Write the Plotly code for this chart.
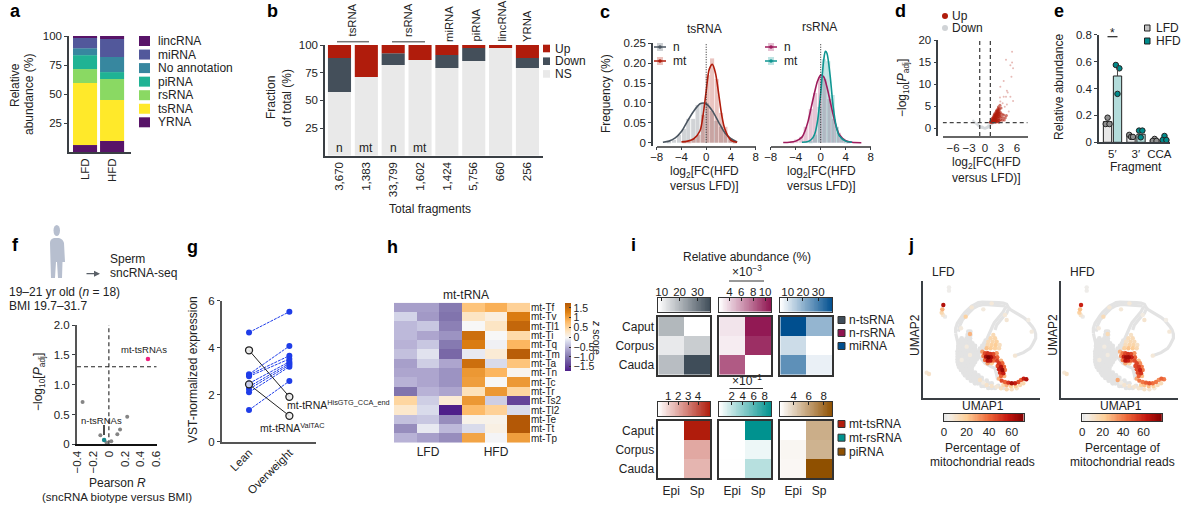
import plotly.graph_objects as go

W, H = 1185, 510
FONT = "Liberation Sans"
INK = "#222222"
AX = "#3a3f44"
UP, DOWN, NS = "#b01c0c", "#444f5a", "#e9e9e9"
TXT = 12

# --- a ---
a_groups = ["LFD", "HFD"]
a_names = ["YRNA", "tsRNA", "rsRNA", "piRNA", "No annotation", "miRNA", "lincRNA"]
a_colors = ["#581468", "#ffe92a", "#8ad963", "#20b394", "#37879f", "#52589b", "#581468"]
a_lfd = [6.0, 53.5, 12.0, 12.0, 6.0, 9.5, 1.0]
a_hfd = [9.5, 35.3, 18.1, 6.0, 13.0, 15.5, 2.6]
# --- b ---
b_counts = ["3,670", "1,383", "33,799", "1,602", "1,424", "5,756", "660", "256"]
b_ns = [57.5, 71.0, 81.9, 86.4, 79.2, 85.5, 97.3, 79.2]
b_down = [30.7, 0.0, 10.6, 0.0, 11.8, 11.8, 0.0, 9.0]
b_up = [11.8, 29.0, 7.5, 13.6, 9.0, 2.7, 2.7, 11.8]
# --- c ---
c_ts_n_bx = [-6, -5.2, -4.4, -3.6, -2.9, -2.1, -1.4, -0.6, 0.1, 0.9, 1.6, 2.4, 3.1, 3.9, 4.6]
c_ts_n_by = [.002, .007, .02, .035, .06, .06, .095, .1, .1, .08, .055, .04, .025, .01, .002]
c_ts_mt_bx = [-3.5, -2.75, -2, -1.25, -0.5, 0.25, 0.95, 1.7, 2.4, 3.1, 3.9, 4.6]
c_ts_mt_by = [.005, .005, .01, .02, .07, .17, .212, .16, .075, .04, .012, .004]
c_ts_n_x = [-7, -6, -5, -4, -3, -2, -1, -0.5, 0, 1, 2, 3, 4, 5]
c_ts_n_y = [.001, .004, .012, .028, .055, .08, .098, .1, .098, .08, .052, .025, .01, .002]
c_ts_mt_x = [-4, -3, -2, -1, -0.5, 0, 0.5, 1, 1.5, 2, 2.5, 3, 4, 5]
c_ts_mt_y = [.002, .004, .01, .03, .07, .13, .185, .197, .175, .125, .07, .035, .006, .001]
c_rs_n_bx = [-4.6, -3.9, -3.1, -2.4, -1.6, -0.9, -0.1, 0.6, 1.4, 2.1, 2.9, 3.6, 4.4]
c_rs_n_by = [.003, .008, .015, .04, .085, .125, .165, .16, .11, .06, .025, .01, .004]
c_rs_mt_bx = [-1.6, -0.9, -0.2, 0.5, 1.2, 1.9, 2.6, 3.3, 4]
c_rs_mt_by = [.004, .02, .09, .21, .205, .12, .04, .012, .004]
c_rs_n_x = [-6, -5, -4, -3, -2.5, -2, -1.5, -1, -0.5, 0, 0.5, 1, 1.5, 2, 2.5, 3, 4, 5, 6.5]
c_rs_n_y = [.0005, .001, .004, .014, .03, .055, .09, .125, .155, .17, .165, .14, .105, .07, .04, .02, .005, .001, 0]
c_rs_mt_x = [-3, -2, -1.5, -1, -0.5, 0, 0.5, 0.75, 1, 1.5, 2, 2.5, 3, 4, 5]
c_rs_mt_y = [.001, .003, .008, .02, .055, .125, .21, .23, .225, .17, .09, .04, .017, .004, .001]
# --- d ---
d_top_x = [5.07, 3.93, 5.07, 4.75, 5.25, 4.95, 3.5, 2.87, 4.1, 4.25, 2.8, 3.5, 3.93, 4.75, 5.25, 2.87, 3.3, 4.1, 3.7, 4.45]
d_top_y = [17.35, 15.5, 14.9, 14.3, 13.6, 11.7, 10.7, 9.4, 8.5, 8.1, 7.0, 7.15, 7.15, 7.15, 6.2, 6.05, 5.65, 5.4, 4.9, 3.8]
d_up_x = [1.0, 1.1, 1.2, 1.2, 1.3, 1.3, 1.4, 1.4, 1.5, 1.5, 1.5, 1.6, 1.6, 1.6, 1.7, 1.7, 1.7, 1.7, 1.8, 1.8, 1.8, 1.8,
          1.9, 1.9, 1.9, 1.9, 2.0, 2.0, 2.0, 2.0, 2.0, 2.1, 2.1, 2.1, 2.1, 2.1, 2.2, 2.2, 2.2, 2.2, 2.2, 2.3, 2.3, 2.3, 2.3,
          2.4, 2.4, 2.4, 2.4, 2.4, 2.5, 2.5, 2.5, 2.5, 2.5, 2.6, 2.6, 2.6, 2.6, 2.7, 2.7, 2.7, 2.7, 2.8, 2.8, 2.9, 2.9,
          3.0, 3.0, 3.2, 3.2, 3.3, 3.5, 3.6, 3.8, 4.0, 1.1, 1.5, 2.0, 2.6]
d_up_y = [1.4, 1.6, 1.5, 1.9, 1.4, 2.2, 1.7, 2.0, 1.5, 2.4, 1.9, 1.6, 2.2, 2.7, 1.5, 2.0, 2.5, 3.0, 1.8, 2.3, 2.8, 3.3,
          1.6, 2.1, 2.6, 3.1, 1.5, 2.0, 2.4, 2.9, 3.5, 1.8, 2.2, 2.7, 3.2, 3.8, 1.6, 2.5, 3.0, 3.5, 4.1, 1.9, 2.8, 3.3, 3.9,
          1.5, 2.3, 3.1, 3.6, 4.4, 1.8, 2.7, 3.4, 4.0, 4.8, 2.2, 3.0, 3.8, 4.5, 1.7, 2.6, 3.4, 4.2, 5.2, 3.0, 2.0, 3.6,
          2.6, 4.6, 1.8, 3.2, 2.4, 3.0, 1.9, 2.4, 2.9, 1.35, 1.35, 1.35, 1.4]
d_gray_x = [-2.2, -2.0, -1.8, -1.6, -1.4, -1.3, -1.2, -1.1, -1.0, -0.9, -0.8, -0.7, -0.6, -0.5, -0.4, -0.3, -0.2, -0.1, 0,
            0.1, 0.2, 0.3, 0.4, 0.5, 0.6, 0.7, 0.8, 0.9, 1.0, 1.1, 1.2, 1.4, 1.6, -0.6, -0.3, 0.3, 0.6, 0.9, 1.3]
d_gray_y = [1.7, 1.4, 1.2, 1.0, 0.9, 0.7, 0.6, 0.55, 0.4, 0.35, 0.3, 0.25, 0.2, 0.15, 0.1, 0.08, 0.05, 0.03, 0.01,
            0.04, 0.06, 0.1, 0.15, 0.2, 0.3, 0.4, 0.5, 0.7, 0.9, 1.05, 1.2, 1.25, 1.2, 0.4, 0.2, 0.3, 0.6, 0.95, 1.0]
# --- e ---
e_groups = ["5′", "3′", "CCA"]
e_lfd = [0.154, 0.047, 0.022]
e_hfd = [0.493, 0.060, 0.022]
e_lfd_px = [-0.2, -0.28, -0.12, 0.72, 0.8, 0.88, 1.8, 1.72, 1.88]
e_lfd_py = [0.183, 0.136, 0.136, 0.055, 0.04, 0.04, 0.025, 0.01, 0.01]
e_hfd_px = [0.15, 0.3, 0.22, 1.14, 1.28, 1.21, 2.22, 2.14, 2.3]
e_hfd_py = [0.575, 0.55, 0.36, 0.087, 0.087, 0.037, 0.047, 0.017, 0.017]
# --- f ---
f_gray_x = [-0.33, 0.23, 0.14, 0.106, -0.107, -0.03, 0.03]
f_gray_y = [0.71, 0.46, 0.25, 0.17, 0.15, 0.03, 0.05]
f_mt = [0.49, 1.43]
f_n = [-0.06, 0.07]
# --- g ---
g_cats = ["Lean", "Overweight"]
g_blue = [[4.65, 5.53], [2.87, 4.07], [2.84, 3.66], [2.78, 3.52], [2.48, 3.4],
          [2.34, 3.33], [2.24, 3.26], [2.1, 3.19], [1.35, 2.58]]
g_black = [[3.89, 1.91], [2.44, 1.1]]
# --- h ---
h_rows = ["mt-Tf", "mt-Tv", "mt-Tl1", "mt-Ti", "mt-Tq", "mt-Tm", "mt-Ta", "mt-Tn", "mt-Tc", "mt-Tr", "mt-Ts2", "mt-Tl2", "mt-Te", "mt-Tt", "mt-Tp"]
h_z = [[-.65, -.65, -.95, .7, .9, .55],
       [-.25, -.7, -1.0, .3, .15, 1.35],
       [-.45, -.35, -.9, 0, .3, 1.6],
       [-.45, -.6, -.75, 1.5, 0, .45],
       [-.5, -.35, -.95, 1.35, -.05, .85],
       [-.4, -.15, -1.1, -.1, .2, 1.7],
       [-.65, -.3, -.6, 1.5, -.2, .7],
       [-.6, -.6, -.75, 1.1, .85, .05],
       [-.5, -.6, -.75, 1.05, 0, 1.1],
       [-1.0, -.5, -.6, .35, 1.1, .5],
       [.5, -.3, .2, 1.1, -.3, -1.4],
       [.25, -.2, -1.7, .8, .55, -.2],
       [-.4, -.35, -.8, .08, .08, 1.77],
       [-.8, -.1, -.45, -.2, .12, 1.77],
       [-.5, -.65, -.8, 1.0, -.02, 1.05]]
# --- i ---
i_rows = ["Caput", "Corpus", "Cauda"]
i_cols = ["Epi", "Sp"]
i_tsn = [[19.7, 8.1], [11.6, 16.2], [18.8, 37.0]]
i_rsn = [[3.3, 10.8], [3.0, 10.0], [8.4, 2.3]]
i_mir = [[39.0, 19.4], [12.0, 5.2], [26.5, 8.0]]
i_tsm = [[0.0, 5.2], [0.0, 2.0], [0.0, 1.7]]
i_rsm = [[-0.25, 9.15], [-0.25, 0.4], [-0.2, 2.4]]
i_pi = [[2.2, 5.4], [2.55, 5.2], [2.5, 9.1]]
# --- j --- (x, y in reading units of the UMAP frame, then % in LFD, % in HFD)
j_paths = [
 [(92,190),(92,175),(97,160),(104,148),(112,137),(120,127),(130,118),(140,108),(150,103),(160,98),(172,96),(185,96),(198,97),
  (210,98),(222,98),(235,99),(245,103),(250,112),(255,118),(265,124),(275,130),(285,135),(295,142),(305,150),(315,160),(322,170),
  (328,180),(332,192),(332,205),(328,215),(322,225),(315,235),(305,242),(295,248),(282,253),(268,258)],
 [(100,185),(105,165),(112,150),(120,140),(132,128),(145,115),(160,107),(175,103),(190,104),(205,104),(225,105),(240,108)],
 [(245,110),(240,115),(235,125),(228,133),(222,142),(215,150),(208,158),(203,168),(198,180),(190,195),(185,210),(178,225),(170,240)],
 [(250,118),(245,130),(235,140),(225,152),(215,165),(210,180)],
 [(92,190),(95,205),(100,225),(98,245)],
 [(165,262),(180,280),(198,290),(210,295),(215,315),(218,330)],
]
j_bg_rows = {
 185: [130, 136], 195: [128, 136], 205: [110, 125, 135], 212: [105, 115, 125, 135, 182, 190],
 220: [102, 110, 118, 126, 134, 142, 178, 186], 228: [100, 108, 116, 124, 132, 140, 150, 172, 180],
 236: [100, 108, 116, 124, 132, 140, 150, 165, 175],
 244: [98, 106, 114, 122, 130, 138, 146, 155, 165],
 252: [98, 106, 114, 122, 130, 138, 146, 154, 160],
 260: [98, 106, 114, 122, 130, 138, 146, 154, 160], 268: [98, 106, 114, 122, 130, 138, 146, 155],
 276: [98, 106, 114, 122, 130, 138, 146, 150], 284: [100, 108, 116, 124, 132, 140, 145], 292: [103, 111, 119, 127, 135, 140],
 300: [108, 116, 124, 132, 140], 308: [115, 123, 131, 139, 150], 316: [120, 128, 136, 144, 152, 160],
 324: [128, 136, 144, 152, 160, 170], 332: [138, 146, 154, 162, 170, 185], 340: [150, 158, 166, 190, 200],
 348: [170, 178, 220], 354: [190, 200, 210, 235]}
j_hot = [(205,195,14,12),(197,205,15,14),(210,205,16,15),(190,215,14,12),(203,215,16,16),(215,215,18,15),(188,225,15,14),
 (200,225,18,18),(212,225,20,18),(224,225,12,12),(185,235,22,20),(197,235,20,24),(210,235,18,22),(222,235,14,16),
 (172,245,30,28),(180,250,45,40),(188,250,50,50),(196,252,50,55),(205,252,45,50),(215,250,30,35),(175,258,35,35),
 (183,260,62,60),(190,262,70,70),(198,262,62,70),(207,262,48,60),(217,262,40,45),(180,270,40,40),(188,272,60,65),
 (196,272,58,60),(205,272,40,45),(216,272,48,50),(228,272,25,25),(188,280,30,30),(200,280,20,20),(222,280,50,52),
 (232,280,40,35),(218,288,45,50),(228,290,60,55),(237,290,40,40),(222,298,55,50),(232,300,65,60),(240,300,35,40),
 (225,308,50,50),(235,310,55,55),(228,318,40,45),(238,318,25,25),(222,326,25,30),(230,332,45,40),(240,336,40,40),
 (250,338,50,45),(260,340,62,48),(270,340,55,42),(280,336,45,40),(288,330,40,35),(296,326,55,45),(304,328,60,40),
 (245,345,25,25),(258,348,20,25),(272,348,20,20),(285,345,15,15),(295,340,15,15),(235,345,15,20),(175,338,6,6),
 (185,345,10,10),(200,348,10,10),(215,350,8,10),(228,355,12,10),(245,358,15,12),(260,358,12,10),(275,355,10,8),
 (165,330,10,30),(55,105,60,60),(52,118,25,25),(50,128,15,20),(54,135,8,10),(60,140,2,2),(72,52,3,3),(72,62,3,3),
 (122,140,18,15),(135,192,25,15),(12,312,10,12),(5,308,8,8),(140,112,8,8),(200,100,7,8),(245,150,8,10),(175,118,6,8),
 (320,185,6,8),(270,257,8,8),(240,135,7,6),(108,175,6,7),(125,230,6,6),(110,270,5,6),(135,255,6,6),(310,150,5,5)]

fig = go.Figure()
layout = {}
shapes, notes = [], []
axis_n = [0]


def fx(x):
    return x / W


def fy(y):
    return 1 - y / H


def new_axes(x0, x1, y0, y1, xrange, yrange, xopt=None, yopt=None):
    axis_n[0] += 1
    n = axis_n[0]
    base = dict(showgrid=False, zeroline=False, showline=True, linecolor=AX, linewidth=1.5,
                ticks="outside", ticklen=3, tickwidth=1, tickcolor=AX,
                tickfont=dict(size=11.5, color=INK, family=FONT), automargin=False)
    xa = dict(base, domain=[fx(x0), fx(x1)], range=xrange, anchor=f"y{n}")
    ya = dict(base, domain=[fy(y1), fy(y0)], range=yrange, anchor=f"x{n}")
    xa.update(xopt or {})
    ya.update(yopt or {})
    layout[f"xaxis{n}"] = xa
    layout[f"yaxis{n}"] = ya
    return f"x{n}", f"y{n}"


def txt(x, y, s, size=TXT, anchor="center", angle=0, color=INK, bold=False, **kw):
    if bold:
        s = f"<b>{s}</b>"
    notes.append(dict(xref="paper", yref="paper", x=fx(x), y=fy(y), text=s, showarrow=False,
                      xanchor=anchor, yanchor="middle", textangle=angle,
                      font=dict(size=size, color=color, family=FONT), align="center", **kw))


def pline(x0, y0, x1, y1, color=AX, width=1.0, dash="solid"):
    shapes.append(dict(type="line", xref="paper", yref="paper", x0=fx(x0), x1=fx(x1), y0=fy(y0), y1=fy(y1),
                       line=dict(color=color, width=width, dash=dash)))


def prect(x0, y0, x1, y1, fill, line=None, lw=0, opacity=1.0, kind="rect"):
    shapes.append(dict(type=kind, xref="paper", yref="paper", x0=fx(x0), x1=fx(x1), y0=fy(y0), y1=fy(y1),
                       fillcolor=fill, opacity=opacity, line=dict(color=line or fill, width=lw)))


def dline(xr, yr, x0, y0, x1, y1, color="#444444", width=1.3, dash="4px,3px"):
    shapes.append(dict(type="line", xref=xr, yref=yr, x0=x0, x1=x1, y0=y0, y1=y1,
                       line=dict(color=color, width=width, dash=dash)))


def ramp(x0, x1, y0, y1, scale, zmin, zmax, ticks, inside_top=True):
    """Legend strip: a horizontal colour key on a real numeric axis."""
    n = 64
    vals = [zmin + (zmax - zmin) * (k + 0.5) / n for k in range(n)]
    xopt = dict(tickvals=ticks, side="top" if inside_top else "bottom", mirror=True, linecolor="#333333", linewidth=1.2,
                ticks="inside" if inside_top else "", ticklen=3, tickcolor="#222222",
                ticklabelstandoff=-4 if inside_top else 0)
    xa, ya = new_axes(x0, x1, y0, y1, [zmin, zmax], [0, 1], xopt,
                      dict(ticks="", showticklabels=False, mirror=True, linecolor="#333333", linewidth=1.2))
    fig.add_trace(go.Heatmap(z=[vals], x=vals, y=[0.5], xaxis=xa, yaxis=ya, zmin=zmin, zmax=zmax,
                             colorscale=scale, showscale=False, hoverinfo="skip"))


for label, x, y in [("a", 15, 11), ("b", 272, 11), ("c", 605, 12), ("d", 900, 11), ("e", 1059, 11),
                    ("f", 15, 245), ("g", 192, 247), ("h", 392, 247), ("i", 633, 245), ("j", 911, 245)]:
    txt(x, y, label, size=18, bold=True, color="#000000")

# ---------------- a
xa, ya = new_axes(69, 131, 36, 152, [-0.593, 1.70], [0, 100],
                  dict(tickvals=[0, 1], ticktext=a_groups, tickangle=-90, ticks=""),
                  dict(tickvals=[25, 50, 75, 100]))
base_l, base_h = 0.0, 0.0
for i, name in enumerate(a_names):
    fig.add_trace(go.Bar(x=[0, 1], y=[a_lfd[i], a_hfd[i]], base=[base_l, base_h], width=0.89, xaxis=xa, yaxis=ya,
                         marker=dict(color=a_colors[i], line=dict(width=0)), showlegend=False, name=name))
    base_l += a_lfd[i]
    base_h += a_hfd[i]
txt(15, 85, "Relative", angle=-90)
txt(29, 95, "abundance (%)", angle=-90)
for i, name in enumerate(a_names[::-1]):
    y = 41 + i * 13.55
    prect(139, y - 5, 150, y + 5, a_colors[::-1][i])
    txt(156, y, name, anchor="left")

# ---------------- b
xa, ya = new_axes(325, 543, 45, 155.7, [-0.54, 7.58], [0, 100],
                  dict(tickvals=list(range(8)), ticktext=b_counts, tickangle=-90, ticks=""),
                  dict(tickvals=[25, 50, 75, 100]))
for vals, bases, col in [(b_ns, [0] * 8, NS), (b_down, b_ns, DOWN),
                         (b_up, [n + d for n, d in zip(b_ns, b_down)], UP)]:
    fig.add_trace(go.Bar(x=list(range(8)), y=vals, base=bases, width=0.86, xaxis=xa, yaxis=ya,
                         marker=dict(color=col, line=dict(width=0)), showlegend=False))
for i, s in enumerate(["n", "mt", "n", "mt"]):
    notes.append(dict(xref=xa, yref=ya, x=i, y=7, text=s, showarrow=False,
                      font=dict(size=TXT, color=INK, family=FONT)))
for s, x in [("tsRNA", 352), ("rsRNA", 408), ("miRNA", 449), ("piRNA", 475), ("lincRNA", 501), ("YRNA", 527)]:
    notes.append(dict(xref="paper", yref="paper", x=fx(x), y=fy(39 if s in ("tsRNA", "rsRNA") else 44), text=s,
                      showarrow=False, xanchor="center", yanchor="bottom", textangle=-90,
                      font=dict(size=11.3, color=INK, family=FONT)))
pline(337, 41.7, 369, 41.7, color="#777777", width=1.5)
pline(392, 41.7, 425, 41.7, color="#777777", width=1.5)
txt(271, 98, "Fraction", angle=-90)
txt(287, 98, "of total (%)", angle=-90)
txt(430, 209, "Total fragments")
for i, (s, c) in enumerate([("Up", UP), ("Down", DOWN), ("NS", NS)]):
    y = 48.5 + i * 12.7
    prect(543, y - 3.8, 550, y + 3.8, c)
    txt(553, y, s, anchor="left")

# ---------------- c
c_yt = dict(tickvals=[0, .05, .10, .15, .20, .25], ticktext=["0", "0.05", "0.10", "0.15", "0.20", "0.25"],
            anchor="free", position=fx(652))
c_xt = dict(tickvals=[-8, -4, 0, 4, 8], ticktext=["−8", "−4", "0", "4", "8"], linecolor="#666666", ticklabelstandoff=-3)
xl, yl = new_axes(656.7, 755.7, 43.3, 145.7, [-8, 8], [-0.0075, 0.25], c_xt, c_yt)
xr, yr = new_axes(770.7, 870.7, 43.3, 145.7, [-8, 8], [-0.0075, 0.25], c_xt, dict(visible=False))


def hist(xa, ya, xs, ys, col, op):
    fig.add_trace(go.Bar(x=xs, y=ys, width=0.66, xaxis=xa, yaxis=ya, opacity=op,
                         marker=dict(color=col, line=dict(width=0)), showlegend=False))


def curve(xa, ya, xs, ys, col):
    fig.add_trace(go.Scatter(x=xs, y=ys, mode="lines", xaxis=xa, yaxis=ya, showlegend=False,
                             line=dict(color=col, width=1.6, shape="spline", smoothing=0.8)))


TN, TM, RN, RM = "#4a5560", UP, "#9e1b5c", "#0f9692"
hist(xl, yl, c_ts_n_bx, c_ts_n_by, TN, 0.25)
hist(xl, yl, c_ts_mt_bx, c_ts_mt_by, TM, 0.25)
curve(xl, yl, c_ts_n_x, c_ts_n_y, TN)
curve(xl, yl, c_ts_mt_x, c_ts_mt_y, TM)
hist(xr, yr, c_rs_n_bx, c_rs_n_by, RN, 0.25)
hist(xr, yr, c_rs_mt_bx, c_rs_mt_by, RM, 0.25)
curve(xr, yr, c_rs_n_x, c_rs_n_y, RN)
curve(xr, yr, c_rs_mt_x, c_rs_mt_y, RM)
dline(xl, yl, 0, 0, 0, 0.25, width=1, dash="1px,1.5px", color="#222222")
dline(xr, yr, 0, 0, 0, 0.25, width=1, dash="1px,1.5px", color="#222222")
txt(705, 29, "tsRNA")
txt(819, 27, "rsRNA")
txt(606, 93, "Frequency (%)", angle=-90)
for cx, t1, c1, t2, c2 in [(660, "n", TN, "mt", TM), (771, "n", RN, "mt", RM)]:
    for y, s, c in [(47, t1, c1), (61, t2, c2)]:
        prect(cx - 3, y - 4, cx + 3, y + 4, c, opacity=0.27)
        pline(cx - 6, y, cx + 6, y, color=c, width=1.5)
        prect(cx - 1.8, y - 1.8, cx + 1.8, y + 1.8, c, kind="circle")
        txt(cx + 11, y, s, anchor="left")
for cx in (705, 821):
    txt(cx, 172, "log<sub>2</sub>[FC(HFD")
    txt(cx, 186, "versus LFD)]")

# ---------------- d
xa, ya = new_axes(942.7, 1027.7, 40, 136, [-7.94, 8.0], [-1.74, 20],
                  dict(tickvals=[-6, -3, 0, 3, 6], ticktext=["−6", "−3", "0", "3", "6"], ticks="", linecolor="#666666"),
                  dict(tickvals=[0, 5, 10, 15, 20], anchor="free", position=fx(937.3)))
fig.add_trace(go.Scatter(x=d_gray_x, y=d_gray_y, mode="markers", xaxis=xa, yaxis=ya, showlegend=False,
                         marker=dict(size=2.5, color="#d5d8dc", opacity=0.8)))
fig.add_trace(go.Scatter(x=d_top_x, y=d_top_y, mode="markers", xaxis=xa, yaxis=ya, showlegend=False,
                         marker=dict(size=2, color=UP, opacity=0.3)))
fig.add_trace(go.Scatter(x=d_up_x, y=d_up_y, mode="markers", xaxis=xa, yaxis=ya, showlegend=False,
                         marker=dict(size=3, color=UP, opacity=0.6)))
dline(xa, ya, -1, -1.74, -1, 20)
dline(xa, ya, 1, -1.74, 1, 20)
dline(xa, ya, -7.94, 1.3, 8.0, 1.3)
prect(942, 13, 948, 19, UP, kind="circle")
prect(942, 25, 948, 31, "#d0d3d6", kind="circle")
txt(950, 16, "Up", anchor="left")
txt(950, 28, "Down", anchor="left")
txt(903, 88, "−log<sub>10</sub>[<i>P</i><sub>adj</sub>]", angle=-90)
txt(986, 163, "log<sub>2</sub>[FC(HFD")
txt(986, 178, "versus LFD)]")

# ---------------- e
xa, ya = new_axes(1099, 1170, 34.7, 142.3, [-0.566, 2.455], [0, 0.8],
                  dict(tickvals=[0, 1, 2], ticktext=e_groups, ticks=""),
                  dict(tickvals=[0, .2, .4, .6, .8], ticktext=["0", "0.2", "0.4", "0.6", "0.8"]))
fig.add_trace(go.Bar(x=[0, 1, 2], y=e_lfd, width=0.353, offset=-0.38, xaxis=xa, yaxis=ya, showlegend=False,
                     marker=dict(color="#e8e8e8", line=dict(color="#222222", width=1))))
fig.add_trace(go.Bar(x=[0, 1, 2], y=e_hfd, width=0.353, offset=0.045, xaxis=xa, yaxis=ya, showlegend=False,
                     marker=dict(color="#b3dcdb", line=dict(color="#222222", width=1))))
dline(xa, ya, 0.22, 0.493, 0.22, 0.575, width=1, dash="solid")
fig.add_trace(go.Scatter(x=e_lfd_px, y=e_lfd_py, mode="markers", xaxis=xa, yaxis=ya, showlegend=False,
                         marker=dict(size=5.5, color="#8f8f8f", line=dict(color="#222222", width=1))))
fig.add_trace(go.Scatter(x=e_hfd_px, y=e_hfd_py, mode="markers", xaxis=xa, yaxis=ya, showlegend=False,
                         marker=dict(size=5.5, color="#008b8b", line=dict(color="#222222", width=1))))
pline(1107.5, 36.7, 1117.5, 36.7, color=INK, width=1.2)
txt(1112.5, 33, "*", size=12)
txt(1059, 87, "Relative abundance", angle=-90)
txt(1136, 167, "Fragment")
for y, s, f in [(28, "LFD", "#c4c4c4"), (41, "HFD", "#008b8b")]:
    prect(1144.5, y - 3, 1150, y + 3, f, line="#222222", lw=1)
    txt(1153.5, y, s, anchor="left")

# ---------------- f
xa, ya = new_axes(77, 156.7, 325, 444.3, [-0.4, 0.6], [0, 2.0],
                  dict(tickvals=[-.4, -.2, 0, .2, .4, .6], ticktext=["−0.4", "−0.2", "0", "0.2", "0.4", "0.6"],
                       tickangle=-90, ticks="", linecolor="#111111", linewidth=2),
                  dict(tickvals=[0, .5, 1, 1.5, 2], ticktext=["0", "0.5", "1.0", "1.5", "2.0"], linecolor="#555555", linewidth=2))
fig.add_trace(go.Scatter(x=f_gray_x, y=f_gray_y, mode="markers", xaxis=xa, yaxis=ya, showlegend=False,
                         marker=dict(size=4, color="#858585")))
fig.add_trace(go.Scatter(x=[f_n[0]], y=[f_n[1]], mode="markers", xaxis=xa, yaxis=ya, showlegend=False,
                         marker=dict(size=4.5, color="#17888c")))
fig.add_trace(go.Scatter(x=[f_mt[0]], y=[f_mt[1]], mode="markers", xaxis=xa, yaxis=ya, showlegend=False,
                         marker=dict(size=4.5, color="#f0217f")))
dline(xa, ya, -0.4, 1.3, 0.6, 1.3, color="#222222", width=1.1)
dline(xa, ya, 0, 0, 0, 2.0, color="#222222", width=1.1)
pline(104, 425, 104, 435, color="#111111", width=1.5)
txt(144, 349.7, "mt-tsRNAs", size=9.5)
txt(101, 420, "n-tsRNAs", size=9.5)
sil = ("M {} {} Q {} {} {} {} L {} {} Q {} {} {} {} L {} {} L {} {} L {} {} L {} {} L {} {} L {} {} L {} {} L {} {} L {} {} Z")
sil_pts = [(50, 243), (50, 239), (54, 238), (59, 238), (63, 239), (64, 243), (65, 262), (62.5, 262), (62, 278),
           (58, 278), (57, 262), (56, 262), (55, 278), (51, 278), (50.5, 262), (48, 262)]
coords = []
for px, py in sil_pts:
    coords += [round(fx(px), 5), round(fy(py), 5)]
shapes.append(dict(type="path", xref="paper", yref="paper", path=sil.format(*coords), fillcolor="#b7bfcf", line=dict(width=0)))
shapes.append(dict(type="circle", xref="paper", yref="paper", x0=fx(53.5), x1=fx(60), y0=fy(236), y1=fy(225),
                   fillcolor="#b7bfcf", line=dict(width=0)))
notes.append(dict(xref="paper", yref="paper", x=fx(100), y=fy(273.7), ax=-15, ay=0,
                  text="", showarrow=True, arrowhead=2, arrowsize=1, arrowwidth=1.2, arrowcolor="#5a6068"))
txt(108, 259, "Sperm", anchor="left")
txt(108, 273, "sncRNA-seq", anchor="left")
txt(7, 292, "19–21 yr old (<i>n</i> = 18)", anchor="left")
txt(7, 306, "BMI 19.7–31.7", anchor="left")
txt(39, 382, "−log<sub>10</sub>[<i>P</i><sub>adj</sub>]", angle=-90)
txt(117, 483, "Pearson <i>R</i>")
txt(117, 497, "(sncRNA biotype versus BMI)", size=11.5)

# ---------------- g
xa, ya = new_axes(222, 316, 300.7, 441.7, [-0.67, 1.66], [0, 6],
                  dict(tickvals=[0, 1], ticktext=g_cats, tickangle=-45, ticks="", linecolor="#555555", linewidth=2,
                       ticklabelstandoff=-2),
                  dict(tickvals=[0, 2, 4, 6], linecolor="#555555", linewidth=2))
for pair in g_blue:
    fig.add_trace(go.Scatter(x=[0, 1], y=pair, mode="lines+markers", xaxis=xa, yaxis=ya, showlegend=False,
                             line=dict(color="#1f3de8", width=1, dash="3px,1px"), marker=dict(size=6, color="#1f3de8")))
for pair in g_black:
    fig.add_trace(go.Scatter(x=[0, 1], y=pair, mode="lines+markers", xaxis=xa, yaxis=ya, showlegend=False,
                             line=dict(color="#222222", width=1),
                             marker=dict(size=7, color="rgba(235,235,235,0.85)", line=dict(color="#222222", width=1.3))))
txt(285, 404, "mt-tRNA<sup>HisGTG_CCA_end</sup>", anchor="left", size=10.5)
txt(258, 427, "mt-tRNA<sup>ValTAC</sup>", anchor="left", size=10.5)
txt(193, 370, "VST-normalized expression", angle=-90)

# ---------------- h
xa, ya = new_axes(394, 530, 302.7, 442.7, [-0.5, 5.5], [14.5, -0.5],
                  dict(showline=False, ticks="", tickvals=[1, 4], ticktext=["LFD", "HFD"], tickfont=dict(size=TXT, color=INK, family=FONT)),
                  dict(showline=False, ticks="", side="right", tickmode="array", tickvals=list(range(15)), ticktext=h_rows,
                       tickfont=dict(size=10, color=INK, family=FONT)))
h_scale = [[0, "#4e1f8a"], [0.2, "#8073ac"], [0.33, "#b2abd2"], [0.43, "#d8daeb"], [0.49, "#f7f7f7"],
           [0.6, "#fee0b6"], [0.73, "#fdb863"], [0.86, "#e08214"], [1, "#b35806"]]
fig.add_trace(go.Heatmap(z=h_z, xaxis=xa, yaxis=ya, zmin=-1.7, zmax=1.77, colorscale=h_scale, xgap=0, ygap=0,
                         colorbar=dict(x=fx(565), xanchor="left", y=fy(370.7), yanchor="bottom",
                                       len=68, lenmode="pixels", thickness=5.5, thicknessmode="pixels", xpad=0, ypad=0,
                                       outlinewidth=0, ticks="inside", ticklen=2, tickcolor="#333333",
                                       tickvals=[-1.5, -1, -.5, 0, .5, 1, 1.5],
                                       ticktext=["−1.5", "−1.0", "−0.5", "0", "0.5", "1", "1.5"],
                                       tickfont=dict(size=10.5, color=INK, family=FONT))))
txt(466, 295, "mt-tRNA")
txt(597, 337, "<i>z</i> score", angle=90, size=10.5)


# ---------------- i
def cheat(x0, x1, y0, y1, z, top, zmin, zmax, ticks, show_rows):
    xa, ya = new_axes(x0, x1, y0, y1, [-0.5, 1.5], [2.5, -0.5],
                      dict(tickvals=[0, 1], ticktext=i_cols, mirror=True, linecolor="#333333", ticks="outside", ticklen=1,
                           tickcolor="rgba(0,0,0,0)", tickfont=dict(size=TXT, color=INK, family=FONT)) if y0 > 400 else
                      dict(ticks="", showticklabels=False, mirror=True, linecolor="#333333"),
                      dict(tickvals=[0, 1, 2], ticktext=i_rows, mirror=True, linecolor="#333333", ticks="",
                           showticklabels=show_rows, tickfont=dict(size=TXT, color=INK, family=FONT)))
    scale = [[0, "#ffffff"], [1, top]]
    fig.add_trace(go.Heatmap(z=z, xaxis=xa, yaxis=ya, zmin=zmin, zmax=zmax, colorscale=scale, showscale=False))
    ramp(x0, x1, y0 - 19, y0 - 5, scale, zmin, zmax, ticks)


cheat(658.3, 710, 316.7, 374.7, i_tsn, "#3f4d59", 8.1, 37, [10, 20, 30], True)
cheat(719.3, 771, 316.7, 374.7, i_rsn, "#8f1450", 2.3, 11, [4, 6, 8, 10], False)
cheat(780.3, 832, 316.7, 374.7, i_mir, "#004f8f", 5.2, 39, [10, 20, 30], False)
cheat(658.3, 710, 421, 478.3, i_tsm, "#b01c0c", 0, 5.2, [1, 2, 3, 4], True)
cheat(719.3, 771, 421, 478.3, i_rsm, "#00928f", -0.25, 9.15, [2, 4, 6, 8], False)
cheat(780.3, 832, 421, 478.3, i_pi, "#8f5000", 2.2, 9.1, [4, 6, 8], False)
txt(747, 256.7, "Relative abundance (%)")
txt(747, 271, "×10<sup>−3</sup>")
pline(729, 281, 764, 281, color="#333333", width=1)
txt(747, 380, "×10<sup>−1</sup>")
pline(729.5, 388.5, 763, 388.5, color="#333333", width=1)
for y, s, c in [(320, "n-tsRNA", "#3f4d59"), (333, "n-rsRNA", "#8f1450"), (346, "miRNA", "#004f8f"),
                (424, "mt-tsRNA", "#b01c0c"), (437.7, "mt-rsRNA", "#00928f"), (451.7, "piRNA", "#8f5000")]:
    prect(838, y - 3.5, 845, y + 3.5, c, line="#333333", lw=1)
    txt(847, y, s, anchor="left")

# ---------------- j
j_scale = [[0, "#e3e3e3"], [0.05, "#f1efeb"], [0.28, "#fdcf98"], [0.55, "#ef6a3a"], [0.8, "#c4160e"], [1, "#7f0000"]]
bg_x, bg_y = [], []
for row_y, row_x in j_bg_rows.items():
    for v in row_x:
        bg_x.append(v)
        bg_y.append(row_y)
for idx, (x0, title, cmax, col, cx, cb_x0) in enumerate([(923, "LFD", 70.5, 2, 982, 944),
                                                          (1060.7, "HFD", 78, 3, 1122, 1082.3)]):
    x1 = x0 + 117
    xa, ya = new_axes(x0, x1, 281, 398.3, [-6, 345], [385, 33],
                      dict(ticks="", showticklabels=False), dict(ticks="", showticklabels=False))
    for path in j_paths:
        fig.add_trace(go.Scatter(x=[p[0] for p in path], y=[p[1] for p in path], mode="lines", xaxis=xa, yaxis=ya,
                                 showlegend=False, line=dict(color="#e3e3e3", width=3.2)))
    fig.add_trace(go.Scatter(x=bg_x, y=bg_y, mode="markers", xaxis=xa, yaxis=ya, showlegend=False,
                             marker=dict(size=4.8, color="#e3e3e3", line=dict(width=0))))
    hot = sorted(j_hot, key=lambda r: r[col])
    fig.add_trace(go.Scatter(x=[r[0] for r in hot], y=[r[1] for r in hot], mode="markers", xaxis=xa, yaxis=ya,
                             showlegend=False,
                             marker=dict(size=4.4, color=[r[col] for r in hot], cmin=0, cmax=cmax, colorscale=j_scale,
                                         line=dict(width=0), showscale=False)))
    ramp(cb_x0, cb_x0 + 79.5, 414, 421, j_scale, 0, cmax, [0, 20, 40, 60], inside_top=False)
    txt(x0 + 7, 272, title, anchor="left")
    txt(x0 + 60, 406, "UMAP1")
    txt(x0 - 8, 335, "UMAP2", angle=-90)
    txt(cx, 447.7, "Percentage of")
    txt(cx, 462, "mitochondrial reads")

fig.update_layout(**layout)
fig.update_layout(width=W, height=H, margin=dict(l=0, r=0, t=0, b=0), paper_bgcolor="white", plot_bgcolor="rgba(0,0,0,0)",
                  barmode="overlay", showlegend=False, shapes=shapes, annotations=notes,
                  font=dict(family=FONT, size=TXT, color=INK))
fig.write_html("out.html", post_script="document.body.style.margin='0';", config={"displayModeBar": False})
